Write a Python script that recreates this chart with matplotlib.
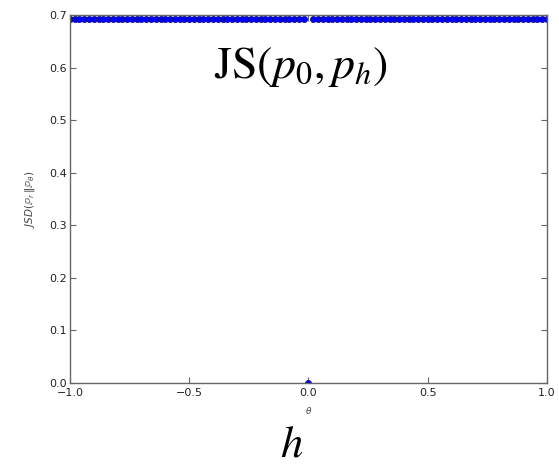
import numpy as np
import matplotlib
matplotlib.use("Agg")
import matplotlib.pyplot as plt

# theta grid and Jensen-Shannon divergence
theta = np.linspace(-1.0, 1.0, 101)
jsd = [0.693] * 50 + [0.0] + [0.693] * 50

x_ticks = [-1.0, -0.5, 0.0, 0.5, 1.0]
y_ticks = [0.0, 0.1, 0.2, 0.3, 0.4, 0.5, 0.6, 0.7]


def main():
    fig = plt.figure(figsize=(5.59, 4.71), dpi=100)
    ax = fig.add_axes([0.125, 0.187, 0.8535, 0.781])

    ax.plot(theta, jsd, 'o', color='b', markeredgecolor='#000080',
            markeredgewidth=0.5, markersize=4.4, linestyle='none')

    ax.set_xlim(-1.0, 1.0)
    ax.set_ylim(0.0, 0.7)
    ax.set_xticks(x_ticks)
    ax.set_yticks(y_ticks)
    ax.set_xticklabels(['\u22121.0', '\u22120.5', '0.0', '0.5', '1.0'])
    ax.tick_params(direction='in', top=True, right=True, labelsize=8,
                   length=4, color='#666666', labelcolor='#222222', pad=2)
    ax.tick_params(axis='x', pad=4)
    for s in ax.spines.values():
        s.set_color('#666666')
        s.set_linewidth(1.0)

    ax.set_xlabel(r'$\theta$', fontsize=6.5, color='#444444', labelpad=5)
    ax.set_ylabel(r'$JSD(\mathbb{P}_r\,\|\mathbb{P}_\theta)$', fontsize=7.5,
                  color='#444444', labelpad=9)

    # big annotations added over the figure
    fig.text(0.383, 0.858, r'$\mathrm{JS}(p_0,p_h)$', fontsize=33,
             math_fontfamily='stix', ha='left', va='center')
    fig.text(0.522, 0.012, r'$h$', fontsize=32, math_fontfamily='stix',
             ha='center', va='bottom')

    fig.savefig('out.png', dpi=100)


if __name__ == "__main__":
    main()
